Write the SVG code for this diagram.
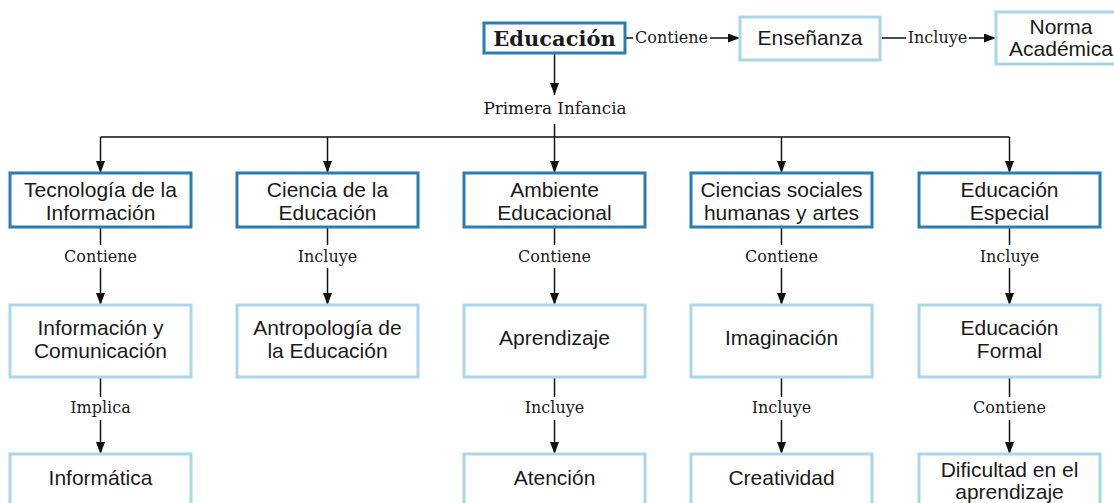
<svg xmlns="http://www.w3.org/2000/svg" width="1114" height="503" viewBox="0 0 1114 503">
<defs>
<marker id="ah" markerUnits="userSpaceOnUse" markerWidth="12" markerHeight="10" refX="12" refY="4.5" orient="auto">
<path d="M0,0 L12,4.5 L0,9 z" fill="#111"/>
</marker>
<style>
.dk{fill:#fff;stroke:#2a7db4;stroke-width:3}
.lt{fill:#fff;stroke:#a9d6ec;stroke-width:3}
.t{font-family:"Liberation Sans",Arial,sans-serif;font-size:21px;fill:#1a1a1a;text-anchor:middle}
.lb{font-family:"DejaVu Serif","Liberation Serif",serif;font-size:16px;fill:#1a1a1a;text-anchor:middle}
.ln{stroke:#111;stroke-width:1.5;fill:none}
.ar{stroke:#111;stroke-width:1.5;fill:none;marker-end:url(#ah)}
</style>
</defs>
<rect width="1114" height="503" fill="#fff"/>

<g id="connectors">
<line class="ln" x1="625" y1="38" x2="633" y2="38"/>
<text class="lb" x="671.5" y="43">Contiene</text>
<line class="ar" x1="710" y1="38" x2="740" y2="38"/>
<line class="ln" x1="882" y1="38" x2="906" y2="38"/>
<text class="lb" x="937.5" y="43">Incluye</text>
<line class="ar" x1="969" y1="38" x2="996" y2="38"/>

<line class="ar" x1="554.5" y1="53" x2="554.5" y2="95"/>
<text class="lb" x="555" y="114" style="font-size:16.8px">Primera Infancia</text>
<line class="ln" x1="554.5" y1="124" x2="554.5" y2="137"/>
<line class="ln" x1="100.5" y1="137" x2="1009.5" y2="137"/>
<line class="ar" x1="100.5" y1="137" x2="100.5" y2="173"/>
<line class="ar" x1="327.5" y1="137" x2="327.5" y2="173"/>
<line class="ar" x1="554.5" y1="137" x2="554.5" y2="173"/>
<line class="ar" x1="781.5" y1="137" x2="781.5" y2="173"/>
<line class="ar" x1="1009.5" y1="137" x2="1009.5" y2="173"/>

<line class="ln" x1="100.5" y1="227" x2="100.5" y2="245"/>
<text class="lb" x="100.5" y="262">Contiene</text>
<line class="ar" x1="100.5" y1="268" x2="100.5" y2="305"/>
<line class="ln" x1="327.5" y1="227" x2="327.5" y2="245"/>
<text class="lb" x="327.5" y="262">Incluye</text>
<line class="ar" x1="327.5" y1="268" x2="327.5" y2="305"/>
<line class="ln" x1="554.5" y1="227" x2="554.5" y2="245"/>
<text class="lb" x="554.5" y="262">Contiene</text>
<line class="ar" x1="554.5" y1="268" x2="554.5" y2="305"/>
<line class="ln" x1="781.5" y1="227" x2="781.5" y2="245"/>
<text class="lb" x="781.5" y="262">Contiene</text>
<line class="ar" x1="781.5" y1="268" x2="781.5" y2="305"/>
<line class="ln" x1="1009.5" y1="227" x2="1009.5" y2="245"/>
<text class="lb" x="1009.5" y="262">Incluye</text>
<line class="ar" x1="1009.5" y1="268" x2="1009.5" y2="305"/>

<line class="ln" x1="100.5" y1="377" x2="100.5" y2="397"/>
<text class="lb" x="100.5" y="413">Implica</text>
<line class="ar" x1="100.5" y1="420" x2="100.5" y2="454"/>
<line class="ln" x1="554.5" y1="377" x2="554.5" y2="397"/>
<text class="lb" x="554.5" y="413">Incluye</text>
<line class="ar" x1="554.5" y1="420" x2="554.5" y2="454"/>
<line class="ln" x1="781.5" y1="377" x2="781.5" y2="397"/>
<text class="lb" x="781.5" y="413">Incluye</text>
<line class="ar" x1="781.5" y1="420" x2="781.5" y2="454"/>
<line class="ln" x1="1009.5" y1="377" x2="1009.5" y2="397"/>
<text class="lb" x="1009.5" y="413">Contiene</text>
<line class="ar" x1="1009.5" y1="420" x2="1009.5" y2="454"/>
</g>

<g id="educacion">
<rect class="dk" x="484" y="23" width="141" height="30"/>
<text x="554.5" y="45.5" style="font-family:'DejaVu Serif','Liberation Serif',serif;font-size:21px;font-weight:bold;fill:#1a1a1a;text-anchor:middle">Educación</text>
</g>
<g id="ensenanza">
<rect class="lt" x="740" y="17" width="140" height="43"/>
<text class="t" x="810" y="45">Enseñanza</text>
</g>
<g id="norma">
<rect class="lt" x="996" y="12" width="130" height="52"/>
<text class="t" x="1061" y="34">Norma</text>
<text class="t" x="1061" y="56">Académica</text>
</g>

<g id="tecnologia">
<rect class="dk" x="10" y="173" width="181" height="54"/>
<text class="t" x="100.5" y="197">Tecnología de la</text>
<text class="t" x="100.5" y="220">Información</text>
</g>
<g id="ciencia">
<rect class="dk" x="237" y="173" width="181" height="54"/>
<text class="t" x="327.5" y="197">Ciencia de la</text>
<text class="t" x="327.5" y="220">Educación</text>
</g>
<g id="ambiente">
<rect class="dk" x="464" y="173" width="181" height="54"/>
<text class="t" x="554.5" y="197">Ambiente</text>
<text class="t" x="554.5" y="220">Educacional</text>
</g>
<g id="ciencias-sociales">
<rect class="dk" x="691" y="173" width="181" height="54"/>
<text class="t" x="781.5" y="197">Ciencias sociales</text>
<text class="t" x="781.5" y="220">humanas y artes</text>
</g>
<g id="educacion-especial">
<rect class="dk" x="919" y="173" width="181" height="54"/>
<text class="t" x="1009.5" y="197">Educación</text>
<text class="t" x="1009.5" y="220">Especial</text>
</g>

<g id="informacion">
<rect class="lt" x="10" y="305" width="181" height="72"/>
<text class="t" x="100.5" y="335">Información y</text>
<text class="t" x="100.5" y="358">Comunicación</text>
</g>
<g id="antropologia">
<rect class="lt" x="237" y="305" width="181" height="72"/>
<text class="t" x="327.5" y="335">Antropología de</text>
<text class="t" x="327.5" y="358">la Educación</text>
</g>
<g id="aprendizaje">
<rect class="lt" x="464" y="305" width="181" height="72"/>
<text class="t" x="554.5" y="345">Aprendizaje</text>
</g>
<g id="imaginacion">
<rect class="lt" x="691" y="305" width="181" height="72"/>
<text class="t" x="781.5" y="345">Imaginación</text>
</g>
<g id="educacion-formal">
<rect class="lt" x="919" y="305" width="181" height="72"/>
<text class="t" x="1009.5" y="335">Educación</text>
<text class="t" x="1009.5" y="358">Formal</text>
</g>

<g id="informatica">
<rect class="lt" x="10" y="454" width="181" height="58"/>
<text class="t" x="100.5" y="485">Informática</text>
</g>
<g id="atencion">
<rect class="lt" x="464" y="454" width="181" height="58"/>
<text class="t" x="554.5" y="485">Atención</text>
</g>
<g id="creatividad">
<rect class="lt" x="691" y="454" width="181" height="58"/>
<text class="t" x="781.5" y="485">Creatividad</text>
</g>
<g id="dificultad">
<rect class="lt" x="919" y="454" width="181" height="58"/>
<text class="t" x="1009.5" y="477">Dificultad en el</text>
<text class="t" x="1009.5" y="499">aprendizaje</text>
</g>
</svg>
